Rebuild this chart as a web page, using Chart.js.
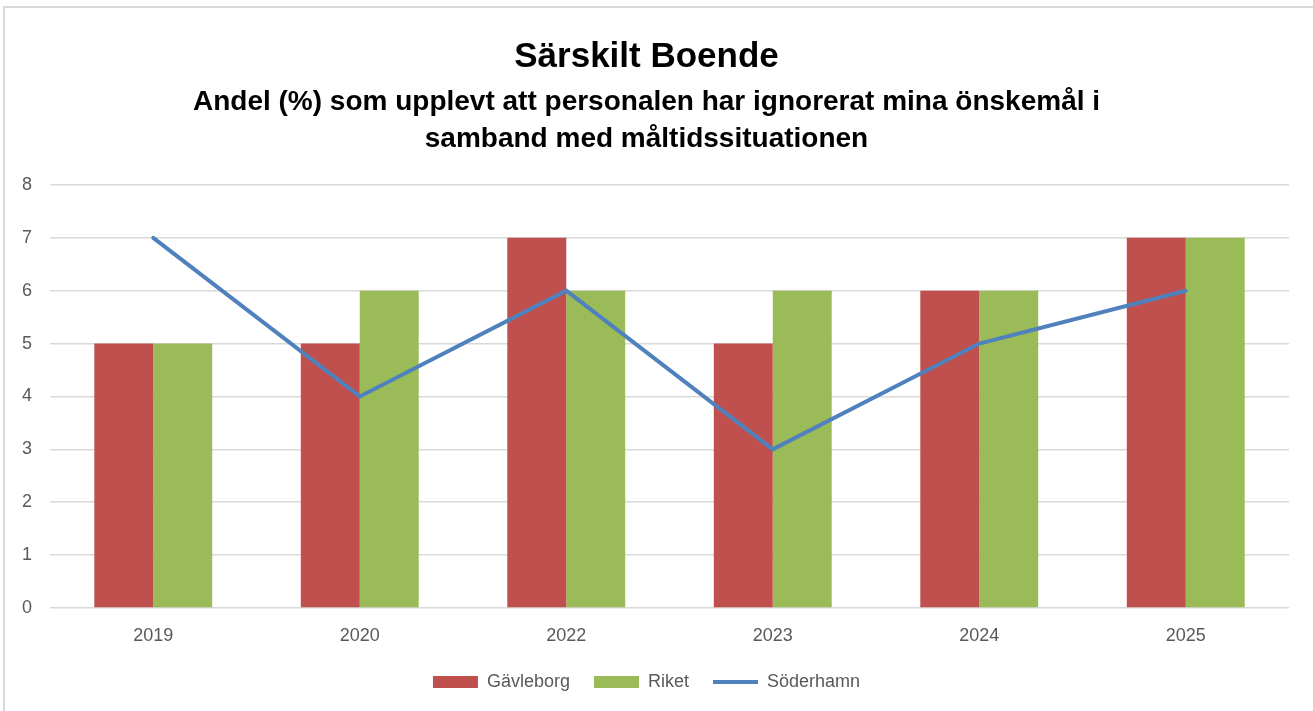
<!DOCTYPE html>
<html>
<head>
<meta charset="utf-8">
<script src="https://cdn.jsdelivr.net/npm/chart.js@4"></script>
<style>
  html, body { margin: 0; padding: 0; background: #fff; overflow: hidden; }
  #frame { position: absolute; left: 3px; top: 6px; width: 1330px; height: 730px; border: 2px solid #d9d9d9; }
  #wrap { position: absolute; left: 0; top: 0; width: 1313px; height: 711px; }
</style>
</head>
<body>
<div id="frame"></div>
<div id="wrap"><canvas id="barChart"></canvas></div>
<script>
const years = ['2019', '2020', '2022', '2023', '2024', '2025'];
const gavleborg = [5, 5, 7, 5, 6, 7];
const riket = [5, 6, 6, 6, 6, 7];
const soderhamn = [7, 4, 6, 3, 5, 6];
const yTicks = [0, 1, 2, 3, 4, 5, 6, 7, 8];

const font = 'Liberation Sans, Arial, sans-serif';

document.addEventListener('DOMContentLoaded', (event) => {
    let ctx = document.getElementById('barChart').getContext('2d');
    let chart = new Chart(ctx, {
        type: 'bar',
        data: {
            labels: years,
            datasets: [{
                label: 'Gävleborg',
                data: gavleborg,
                backgroundColor: '#c0504d',
                borderWidth: 0,
                pointStyle: 'rect',
                barPercentage: 1.0,
                categoryPercentage: 0.571,
                order: 2
            }, {
                label: 'Riket',
                data: riket,
                backgroundColor: '#9bbb59',
                borderWidth: 0,
                pointStyle: 'rect',
                barPercentage: 1.0,
                categoryPercentage: 0.571,
                order: 3
            }, {
                type: 'line',
                label: 'Söderhamn',
                data: soderhamn,
                borderColor: '#4f81bd',
                backgroundColor: '#4f81bd',
                borderWidth: 4,
                borderCapStyle: 'round',
                pointRadius: 0,
                pointStyle: 'line',
                tension: 0,
                order: 1
            }]
        },
        options: {
            responsive: true,
            maintainAspectRatio: false,
            animation: false,
            layout: { padding: { left: 4, right: 24, top: 10, bottom: 10 } },
            plugins: {
                title: {
                    display: true,
                    text: 'Särskilt Boende',
                    color: '#000',
                    font: { family: font, size: 35, weight: 'bold' },
                    padding: { top: 26, bottom: 6 }
                },
                subtitle: {
                    display: true,
                    text: ['Andel (%) som upplevt att personalen har ignorerat mina önskemål i', 'samband med måltidssituationen'],
                    color: '#000',
                    font: { family: font, size: 28, weight: 'bold', lineHeight: 1.32 },
                    padding: { top: 0, bottom: 27 }
                },
                legend: {
                    position: 'bottom',
                    labels: {
                        usePointStyle: true,
                        pointStyleWidth: 45,
                        boxWidth: 45,
                        boxHeight: 12,
                        padding: 24,
                        color: '#595959',
                        font: { family: font, size: 18 },
                        sort: (a, b) => a.datasetIndex - b.datasetIndex
                    }
                },
                tooltip: { enabled: false }
            },
            scales: {
                x: {
                    grid: { display: false },
                    border: { display: false },
                    ticks: { color: '#595959', font: { family: font, size: 18 }, padding: 9 },
                    afterFit: (axis) => { axis.height = 41; }
                },
                y: {
                    min: 0,
                    max: 8,
                    afterBuildTicks: (axis) => { axis.ticks = yTicks.map(v => ({ value: v })); },
                    grid: { color: '#d9d9d9', lineWidth: 1.5, drawTicks: false },
                    border: { display: false },
                    ticks: { color: '#595959', font: { family: font, size: 18 }, padding: 18 }
                }
            }
        }
    });
});
</script>
</body>
</html>
